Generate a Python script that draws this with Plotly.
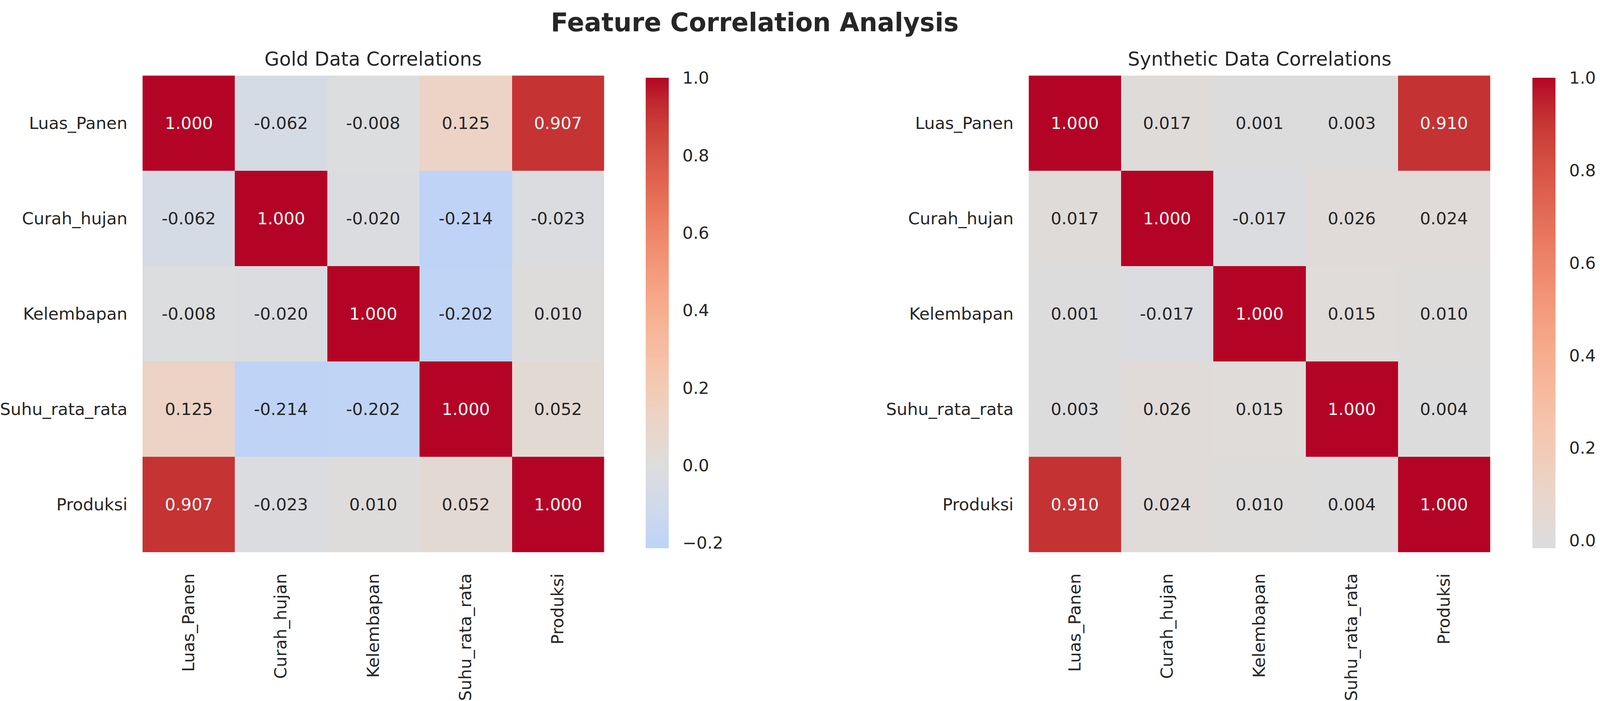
import numpy as np
import plotly.graph_objects as go

features = ["Luas_Panen", "Curah_hujan", "Kelembapan", "Suhu_rata_rata", "Produksi"]

gold_corr = [
    [1.000, -0.062, -0.008, 0.125, 0.907],
    [-0.062, 1.000, -0.020, -0.214, -0.023],
    [-0.008, -0.020, 1.000, -0.202, 0.010],
    [0.125, -0.214, -0.202, 1.000, 0.052],
    [0.907, -0.023, 0.010, 0.052, 1.000],
]

synth_corr = [
    [1.000, 0.017, 0.001, 0.003, 0.910],
    [0.017, 1.000, -0.017, 0.026, 0.024],
    [0.001, -0.017, 1.000, 0.015, 0.010],
    [0.003, 0.026, 0.015, 1.000, 0.004],
    [0.910, 0.024, 0.010, 0.004, 1.000],
]

titles = ["Gold Data Correlations", "Synthetic Data Correlations"]

# coolwarm (Moreland) control points, 33 steps
COOLWARM = [
    (59, 76, 192), (68, 90, 204), (77, 104, 215), (87, 117, 225), (98, 130, 234),
    (108, 142, 241), (119, 154, 247), (130, 165, 251), (141, 176, 254), (152, 185, 255),
    (163, 194, 255), (174, 201, 253), (184, 208, 249), (194, 213, 244), (204, 217, 238),
    (213, 219, 230), (221, 221, 221), (229, 216, 209), (236, 211, 197), (241, 204, 184),
    (245, 196, 172), (247, 187, 160), (247, 177, 148), (247, 166, 135), (244, 154, 123),
    (241, 141, 111), (236, 127, 99), (229, 112, 88), (222, 96, 77), (213, 80, 66),
    (203, 62, 56), (192, 40, 47), (180, 4, 38),
]
CW_POS = np.linspace(0, 1, len(COOLWARM))
CW_ARR = np.array(COOLWARM, dtype=float)


def coolwarm(t):
    return [float(np.interp(t, CW_POS, CW_ARR[:, k])) for k in range(3)]


def centered_scale(zmin, zmax, center=0.0, n=40):
    # same trick as seaborn's center=: take the slice of the full map
    vrange = max(zmax - center, center - zmin)
    lo = (zmin - center + vrange) / (2 * vrange)
    hi = (zmax - center + vrange) / (2 * vrange)
    scale = []
    for i, t in enumerate(np.linspace(lo, hi, n)):
        r, g, b = coolwarm(t)
        scale.append([i / (n - 1), f"rgb({r:.0f},{g:.0f},{b:.0f})"])
    return scale


# the browser viewport is only 4096 wide, so lay out on the reference's
# 4237-wide grid as fractions and draw at the width we actually get
REF_W = 4237
W, H = 4096, 1794
SX = W / REF_W
TXT = "#262626"
FONT = "DejaVu Sans"

# reference pixel layout of the two panels
hm_left = [376, 2726]
hm_width = 1224
hm_top, hm_bottom = 194, 1418
cb_left = [1700, 4052]

fig = go.Figure()

for i, (data, title) in enumerate(zip([gold_corr, synth_corr], titles)):
    z = np.array(data)
    zmin, zmax = float(z.min()), float(z.max())
    xa = "x" if i == 0 else "x2"
    ya = "y" if i == 0 else "y2"
    fig.add_trace(go.Heatmap(
        z=data, x=features, y=features,
        xaxis=xa, yaxis=ya,
        zmin=zmin, zmax=zmax,
        colorscale=centered_scale(zmin, zmax),
        hoverinfo="skip",
        colorbar=dict(
            x=cb_left[i] / REF_W, xanchor="left",
            y=1 - hm_bottom / H, yanchor="bottom",
            len=hm_bottom - hm_top, lenmode="pixels",
            thickness=round(61 * SX), thicknessmode="pixels",
            outlinewidth=0,
            tickmode="linear", tick0=0, dtick=0.2, tickformat=".1f",
            ticks="outside", ticklen=round(28 * SX), tickcolor="rgba(0,0,0,0)",
            tickfont=dict(size=43, color=TXT, family=FONT),
        ),
    ))

    for r, row_name in enumerate(features):
        for c, col_name in enumerate(features):
            v = data[r][c]
            fig.add_annotation(
                x=col_name, y=row_name, xref=xa, yref=ya,
                text=f"{v:.3f}", showarrow=False,
                font=dict(size=43, family=FONT, color="white" if v > 0.5 else TXT),
            )

    fig.add_annotation(
        x=(hm_left[i] + hm_width / 2) / REF_W, y=1 - 152 / H,
        xref="paper", yref="paper", xanchor="center", yanchor="middle",
        text=title, showarrow=False,
        font=dict(size=49, family=FONT, color=TXT),
    )

axis_common = dict(showgrid=False, zeroline=False, showline=False,
                   ticks="outside", tickcolor="rgba(0,0,0,0)",
                   tickfont=dict(size=43, color=TXT, family=FONT))

fig.update_layout(
    width=W, height=H,
    margin=dict(l=0, r=0, t=0, b=0),
    paper_bgcolor="white", plot_bgcolor="white",
    font=dict(family=FONT, color=TXT),
    xaxis=dict(domain=[hm_left[0] / REF_W, (hm_left[0] + hm_width) / REF_W], anchor="y",
               tickangle=-90, ticklen=36, **axis_common),
    yaxis=dict(domain=[1 - hm_bottom / H, 1 - hm_top / H], anchor="x",
               autorange="reversed", ticklen=round(30 * SX), **axis_common),
    xaxis2=dict(domain=[hm_left[1] / REF_W, (hm_left[1] + hm_width) / REF_W], anchor="y2",
                tickangle=-90, ticklen=36, **axis_common),
    yaxis2=dict(domain=[1 - hm_bottom / H, 1 - hm_top / H], anchor="x2",
                autorange="reversed", ticklen=round(30 * SX), **axis_common),
)

fig.add_annotation(
    x=1999 / REF_W, y=1 - 58 / H, xref="paper", yref="paper",
    xanchor="center", yanchor="middle", showarrow=False,
    text="<b>Feature Correlation Analysis</b>",
    font=dict(size=65, family=FONT, color=TXT),
)

# drop the default body margin so the figure starts at the page corner
fig.write_html("out.html", config={"displayModeBar": False},
               post_script="document.body.style.margin = '0';")
